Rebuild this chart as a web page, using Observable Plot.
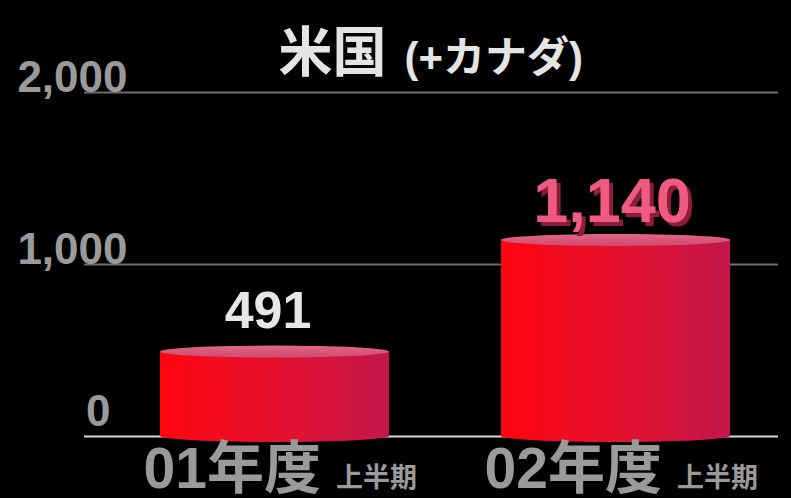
<!DOCTYPE html>
<html><head><meta charset="utf-8">
<script src="https://cdn.jsdelivr.net/npm/d3@7"></script>
<script src="https://cdn.jsdelivr.net/npm/@observablehq/plot@0.6"></script>
<style>html,body{margin:0;padding:0;background:#000;}#chart{width:791px;height:498px;}</style>
</head><body><div id="chart"></div>
<script>
const periods = ["01", "02"];
const values = [491, 1140];
const periodSuffix = "年度";
const halfLabel = "上半期";
const gridTicks = [0, 1000, 2000];
const titleMain = "米国";
const titleSub = "(+カナダ)";

const data = periods.map((p, i) => ({period: p, value: values[i]}));
const FONT = "'Liberation Sans', Arial, 'Noto Sans CJK JP', sans-serif";
const fmt = d3.format(",");
const HILITE = "#ef5a80";

const plot = Plot.plot({
  width: 791, height: 498,
  marginTop: 92, marginBottom: 62, marginLeft: 84, marginRight: 13,
  style: {background: "#000", fontFamily: FONT},
  x: {type: "band", domain: periods, range: [159, 731], paddingInner: 0.327, paddingOuter: 0, axis: null},
  y: {domain: [0, 2000], axis: null},
  marks: [
    Plot.ruleY(gridTicks.filter(d => d > 0), {stroke: "#6e6e6e", strokeWidth: 2}),
    Plot.ruleY([0], {stroke: "#d8d8d8", strokeWidth: 2}),
    Plot.barY(data, {x: "period", y: "value", fill: "url(#barGrad)"}),
    // y tick labels
    Plot.text(gridTicks.filter(d => d > 0), {y: d => d, text: d => fmt(d), frameAnchor: "left", textAnchor: "end", lineAnchor: "bottom", dx: 43, dy: -1, fill: "#9a9a9a", fontSize: 44, fontWeight: "bold"}),
    Plot.text(gridTicks.filter(d => d === 0), {y: d => d, text: d => fmt(d), frameAnchor: "left", textAnchor: "end", lineAnchor: "bottom", dx: 26, dy: -11, fill: "#9a9a9a", fontSize: 44, fontWeight: "bold"}),
    // x labels
    Plot.text(periods, {x: d => d, text: d => d + periodSuffix, frameAnchor: "bottom", textAnchor: "end", lineAnchor: "bottom", dx: 46, dy: 51, fill: "#9a9a9a", fontSize: 57, fontWeight: "bold"}),
    Plot.text(periods, {x: d => d, text: () => halfLabel, frameAnchor: "bottom", textAnchor: "start", lineAnchor: "bottom", dx: 61, dy: 50, fill: "#9a9a9a", fontSize: 27, fontWeight: "bold"}),
    // value labels
    Plot.text(data.filter(d => d.period === "01"), {x: "period", y: "value", text: d => fmt(d.value), lineAnchor: "middle", dx: -7, dy: -41, fill: "#e6e6e6", fontSize: 52, fontWeight: "bold"}),
    Plot.text(data.filter(d => d.period === "02"), {x: "period", y: "value", text: d => fmt(d.value), lineAnchor: "middle", dx: -4, dy: -39, fill: HILITE, fontSize: 63, fontWeight: "bold"}),
    // title
    Plot.text([titleMain], {text: d => d, frameAnchor: "top", textAnchor: "end", lineAnchor: "bottom", dx: -45, dy: -21, fill: "#e4e4e4", fontSize: 54, fontWeight: "bold"}),
    Plot.text([titleSub], {text: d => d, frameAnchor: "top", textAnchor: "start", lineAnchor: "bottom", dx: -27, dy: -21, fill: "#e4e4e4", fontSize: 42, fontWeight: "bold"})
  ]
});

// gradients, shadow filter + cylinder ellipses using the plot's scales
const svgSel = d3.select(plot);
const defs = svgSel.insert("defs", ":first-child");
const g = defs.append("linearGradient").attr("id", "barGrad").attr("x1", 0).attr("x2", 1).attr("y1", 0).attr("y2", 0);
g.append("stop").attr("offset", 0).attr("stop-color", "#ff0510");
g.append("stop").attr("offset", 0.5).attr("stop-color", "#e6102e");
g.append("stop").attr("offset", 1).attr("stop-color", "#c2174a");
const gt = defs.append("linearGradient").attr("id", "topGrad").attr("x1", 0).attr("x2", 0).attr("y1", 0).attr("y2", 1);
gt.append("stop").attr("offset", 0).attr("stop-color", "#e2668a");
gt.append("stop").attr("offset", 1).attr("stop-color", "#cf4a6e");
const f = defs.append("filter").attr("id", "txtShadow").attr("x", "-10%").attr("y", "-10%").attr("width", "130%").attr("height", "140%");
f.append("feDropShadow").attr("dx", 4).attr("dy", 4).attr("stdDeviation", 0).attr("flood-color", "#8e1b3a").attr("flood-opacity", 1);
svgSel.selectAll("text").filter(function() { return this.textContent === fmt(values[1]); }).attr("filter", "url(#txtShadow)");

const xScale = plot.scale("x"), yScale = plot.scale("y");
const bw = xScale.bandwidth;
const barG = svgSel.select('g[aria-label="bar"]').node();
const bottomG = d3.select(barG.parentNode).insert("g", () => barG);
const topG = d3.select(barG.parentNode).insert("g", () => barG.nextSibling);
data.forEach(d => {
  const cx = xScale.apply(d.period) + bw / 2;
  bottomG.append("ellipse").attr("cx", cx).attr("cy", yScale.apply(0)).attr("rx", bw / 2).attr("ry", 6).attr("fill", "url(#barGrad)");
  topG.append("ellipse").attr("cx", cx).attr("cy", yScale.apply(d.value)).attr("rx", bw / 2).attr("ry", 6).attr("fill", "url(#topGrad)");
});

document.getElementById("chart").appendChild(plot);
</script></body></html>
